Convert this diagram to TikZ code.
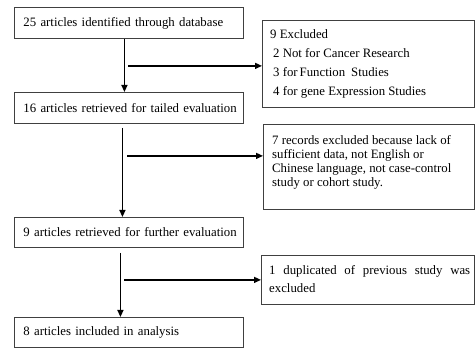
\documentclass[tikz,border=0pt]{standalone}
\usepackage{fontspec}
\setmainfont{Liberation Serif}
\usetikzlibrary{arrows.meta,calc}
\begin{document}
\begin{tikzpicture}[x=1pt,y=1pt,
  box/.style={draw=black!75, line width=0.9pt, rectangle, inner sep=0pt, anchor=north west},
  lbox/.style={box, inner xsep=9pt, text width=211pt, align=left, font=\fontsize{12.8}{15}\selectfont},
  txt/.style={inner sep=0pt, anchor=north west, align=left},
  arr/.style={line width=1.4pt, -{Triangle[length=7pt,width=6pt]}},
  ]
\useasboundingbox (0,0) rectangle (475,348);
% left column
\node[lbox, minimum width=229pt, minimum height=31pt] (b1) at (14,341) {\mbox{25 articles identified through database}};
\node[lbox, minimum width=229pt, minimum height=31pt] (b2) at (14,256) {\mbox{16 articles retrieved for tailed evaluation}};
\node[lbox, minimum width=229pt, minimum height=30pt] (b3) at (14,131) {\mbox{9 articles retrieved for further evaluation}};
\node[lbox, minimum width=229pt, minimum height=30pt] (b4) at (14,31) {\mbox{8 articles included in analysis}};
% right column
\node[box, minimum width=212pt, minimum height=87pt] (r1) at (262,328) {};
\node[box, minimum width=211pt, minimum height=85pt] (r2) at (263,224) {};
\node[box, minimum width=213pt, minimum height=49pt] (r3) at (261,93) {};
\node[txt, font=\fontsize{12.8}{19}\selectfont] (t1) at ($(r1.north west)+(8,-9.5)$)
  {9 Excluded\\ \hspace*{3pt}2 Not for Cancer Research\\ \hspace*{3pt}3 for\hspace{2pt}Function\hspace{6pt}Studies\\ \hspace*{3pt}4 for gene Expression Studies};
\node[txt, font=\fontsize{12.8}{14}\selectfont] (t2) at ($(r2.north west)+(9,-11)$)
  {7 records excluded because lack of\\ sufficient data, not English or\\ Chinese language, not case-control\\ study or cohort study.};
\node[txt, font=\fontsize{12.8}{18}\selectfont] (t3) at ($(r3.north west)+(8,-10.5)$)
  {\makebox[201pt][s]{1 duplicated of previous study was}\\ excluded};
% vertical arrows
\draw[arr] ($(b1.south)+(-4.5,0)$) -- ($(b2.north)+(-4.5,0)$);
\draw[arr] ($(b2.south)+(-6.5,-4)$) -- ($(b3.north)+(-6.5,0)$);
\draw[arr] ($(b3.south)+(-8.5,-5)$) -- ($(b4.north)+(-8.5,0)$);
% branches
\coordinate (c1) at ($(b1.south)+(-0.5,-27)$);
\coordinate (c2) at ($(b2.south)+(-1.5,-32)$);
\coordinate (c3) at ($(b3.south)+(-4.5,-32)$);
\draw[arr] (c1) -- (c1 -| r1.west);
\draw[arr] (c2) -- (c2 -| r2.west);
\draw[arr] (c3) -- (c3 -| r3.west);
\end{tikzpicture}
\end{document}
